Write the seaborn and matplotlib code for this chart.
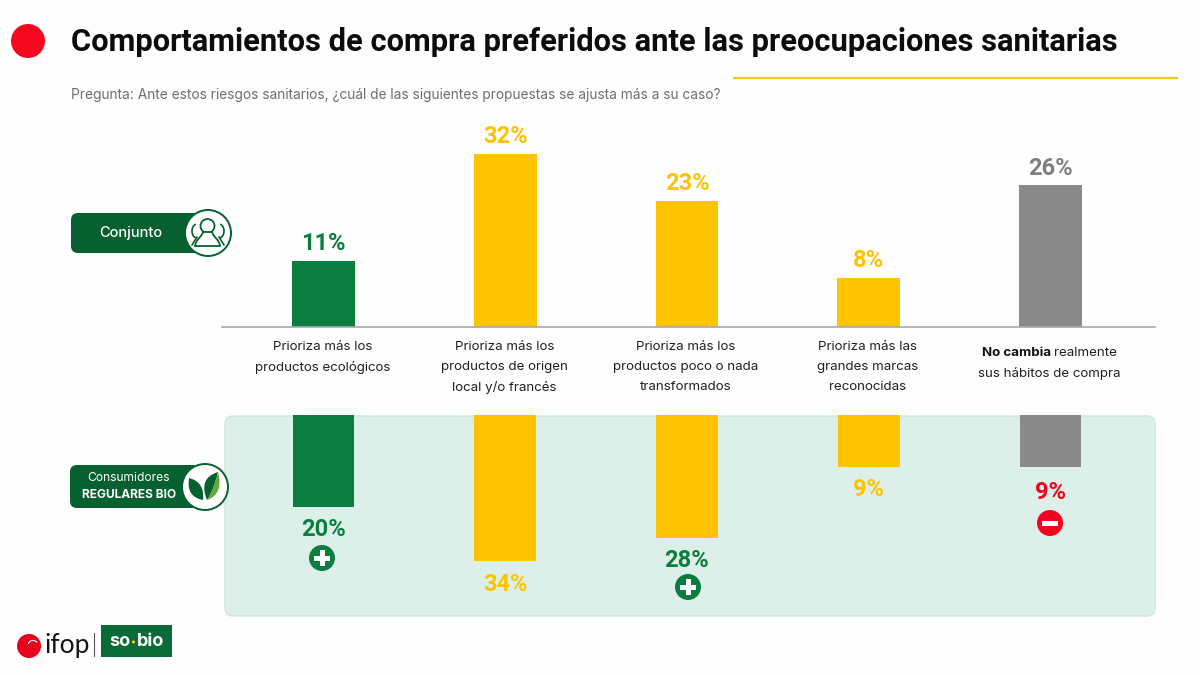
import numpy as np
import pandas as pd
import matplotlib
matplotlib.use('Agg')
import matplotlib.pyplot as plt
from matplotlib.patches import FancyBboxPatch, Circle, Rectangle, PathPatch, Arc
from matplotlib.path import Path
import seaborn as sns

# datos
categorias = ['ecologicos', 'local', 'transformados', 'marcas', 'no cambia']
etiquetas = ['Prioriza más los\nproductos ecológicos',
             'Prioriza más los\nproductos de origen\nlocal y/o francés',
             'Prioriza más los\nproductos poco o nada\ntransformados',
             'Prioriza más las\ngrandes marcas\nreconocidas',
             '\nsus hábitos de compra']
conjunto_txt = ['11%', '32%', '23%', '8%', '26%']
bio_txt = ['20%', '34%', '28%', '9%', '9%']
# altura dibujada de las barras (no es del todo proporcional en el original)
conjunto_alto = [12.2, 32, 23.3, 9.06, 26.2]
bio_alto = [21.4, 34, 28.6, 12.1, 12.1]

VERDE = '#0b7d3e'
OSCURO = '#07602f'
AMARILLO = '#ffc300'
GRIS = '#8a8a8a'
ROJO = '#f5001e'
colores = [VERDE, AMARILLO, AMARILLO, AMARILLO, GRIS]
colores_txt = [VERDE, AMARILLO, AMARILLO, AMARILLO, '#7f7f7f']
colores_bio = [VERDE, AMARILLO, VERDE, AMARILLO, ROJO]

sns.set_theme(style='white')
plt.rcParams['font.family'] = ['Inter', 'DejaVu Sans']

fig = plt.figure(figsize=(12, 6.75), dpi=100, facecolor='#fefefe')
W, H = 1200, 675


def ejes_px(x0, y0, x1, y1, **kw):
    return fig.add_axes([x0 / W, 1 - y1 / H, (x1 - x0) / W, (y1 - y0) / H], **kw)


# capa de fondo en pixeles
fondo = ejes_px(0, 0, W, H, zorder=0)
fondo.set_xlim(0, W)
fondo.set_ylim(H, 0)
fondo.axis('off')
fondo.add_patch(FancyBboxPatch((225, 416), 930, 200, boxstyle='round,pad=0,rounding_size=8',
                               fc='#dcefe8', ec='#cde5dc', lw=1))

df_top = pd.DataFrame({'cat': categorias, 'valor': conjunto_alto})
df_bio = pd.DataFrame({'cat': categorias, 'valor': bio_alto})

# barras de arriba
ax1 = ejes_px(222, 120, 1155, 327, zorder=1)
sns.barplot(data=df_top, x='cat', y='valor', hue='cat', palette=colores, legend=False,
            width=0.345, saturation=1, linewidth=0, ax=ax1)
ax1.set_xlim(-0.558, 4.575)
ax1.set_ylim(0, 207 / 5.41)
ax1.patch.set_alpha(0)
ax1.set(xlabel='', ylabel='', xticks=[], yticks=[])
sns.despine(ax=ax1, left=True, top=True, right=True)
ax1.spines['bottom'].set_color('#a8a8a8')
ax1.spines['bottom'].set_linewidth(1.2)
for i, t in enumerate(conjunto_txt):
    ax1.annotate(t, (i, conjunto_alto[i]), xytext=(0, 4), textcoords='offset points',
                 ha='center', va='bottom', fontsize=17, fontweight='bold', color=colores_txt[i],
                 family='Roboto')

# barras de abajo, invertidas
ax2 = ejes_px(222, 415, 1155, 616, zorder=1)
sns.barplot(data=df_bio, x='cat', y='valor', hue='cat', palette=colores, legend=False,
            width=0.34, saturation=1, linewidth=0, ax=ax2)
ax2.set_xlim(-0.558, 4.575)
ax2.set_ylim(201 / 4.295, 0)
ax2.patch.set_alpha(0)
ax2.set(xlabel='', ylabel='', xticks=[], yticks=[])
sns.despine(ax=ax2, left=True, top=True, right=True, bottom=True)
for i, t in enumerate(bio_txt):
    extra = -10 if i == 4 else -8.3
    ax2.annotate(t, (i, bio_alto[i]), xytext=(0, extra), textcoords='offset points',
                 ha='center', va='top', fontsize=17, fontweight='bold', color=colores_bio[i],
                 family='Roboto')

# capa de textos e iconos
capa = ejes_px(0, 0, W, H, zorder=2)
capa.set_xlim(0, W)
capa.set_ylim(H, 0)
capa.axis('off')
capa.patch.set_alpha(0)

capa.add_patch(Circle((28, 41), 17, fc='#f5071e', ec='none'))
capa.text(71, 42, 'Comportamientos de compra preferidos ante las preocupaciones sanitarias',
          fontsize=22.2, fontweight='bold', color='#0c0c0c', va='center', ha='left', family='Roboto')
capa.plot([733, 1178], [78, 78], color='#f5c518', lw=1.6, solid_capstyle='butt')
capa.text(71, 95.5, 'Pregunta: Ante estos riesgos sanitarios, ¿cuál de las siguientes propuestas se ajusta más a su caso?',
          fontsize=9.9, color='#6e6e6e', va='center', ha='left')

# cada linea por separado, con 20 px entre lineas
for i, lab in enumerate(etiquetas):
    y0 = 353 if i == 4 else 347
    for j, linea in enumerate(lab.split('\n')):
        if linea:
            capa.text(322.5 + 181.75 * i, y0 + 20 * j, linea, fontsize=9.6, color='#222222',
                      ha='center', va='center')
# la primera linea de la ultima etiqueta mezcla negrita y normal
capa.text(982, 353, 'No cambia', fontsize=9.6, fontweight='bold', color='#111111', ha='left', va='center')
capa.text(1054, 353, 'realmente', fontsize=9.6, color='#222222', ha='left', va='center')


def signo(x, y, color, mas):
    capa.add_patch(Circle((x, y), 13, fc=color, ec='none'))
    capa.add_patch(Rectangle((x - 8, y - 2.5), 16, 5, fc='white', ec='none'))
    if mas:
        capa.add_patch(Rectangle((x - 2.5, y - 8), 5, 16, fc='white', ec='none'))


signo(322, 558, VERDE, True)
signo(688, 587, VERDE, True)
signo(1050, 523, ROJO, False)

# etiqueta Conjunto
capa.add_patch(FancyBboxPatch((71, 213), 130, 40, boxstyle='round,pad=0,rounding_size=7', fc=OSCURO, ec='none'))
capa.text(131, 233, 'Conjunto', fontsize=10.5, fontweight='medium', color='white', ha='center', va='center')
capa.add_patch(Circle((208, 233), 23, fc='white', ec=OSCURO, lw=1.4))
capa.add_patch(Arc((197, 231), 10, 14, theta1=90, theta2=260, ec=OSCURO, lw=1.2, zorder=3))
capa.add_patch(Arc((219, 231), 10, 14, theta1=-80, theta2=90, ec=OSCURO, lw=1.2, zorder=3))
capa.plot([192, 197], [245, 237], color=OSCURO, lw=1.2, zorder=3)
capa.plot([224, 219], [245, 237], color=OSCURO, lw=1.2, zorder=3)
capa.add_patch(Circle((207.5, 226), 7, fc='white', ec=OSCURO, lw=1.3, zorder=4))
capa.add_patch(PathPatch(Path([(195, 246), (196, 239), (201, 238), (203, 232), (212, 232), (214, 238), (219, 239), (220, 246), (195, 246)],
                              [Path.MOVETO, Path.CURVE4, Path.CURVE4, Path.CURVE4, Path.LINETO, Path.CURVE4, Path.CURVE4, Path.CURVE4, Path.CLOSEPOLY]),
                         fc='white', ec=OSCURO, lw=1.3, zorder=4))

# etiqueta Consumidores
capa.add_patch(FancyBboxPatch((70, 465), 130, 43, boxstyle='round,pad=0,rounding_size=7', fc=OSCURO, ec='none'))
capa.text(129, 478, 'Consumidores', fontsize=8.7, color='white', ha='center', va='center')
capa.text(129, 495, 'REGULARES BIO', fontsize=8.6, fontweight='bold', color='white', ha='center', va='center')
capa.add_patch(Circle((205, 487), 23, fc='white', ec=OSCURO, lw=1.4))


def hoja(x0, y0, x1, y1, cx1, cy1, cx2, cy2, color):
    capa.add_patch(PathPatch(Path([(x0, y0), (cx1, cy1), (x1, y1), (cx2, cy2), (x0, y0)],
                                  [Path.MOVETO, Path.CURVE3, Path.CURVE3, Path.CURVE3, Path.CURVE3]),
                             fc=color, ec='none', zorder=4))


hoja(203, 500, 189, 478, 186, 497, 205, 482, OSCURO)
hoja(207, 500, 218, 472, 198, 478, 214, 490, OSCURO)
hoja(207, 500, 218, 472, 224, 494, 214, 490, '#62a83a')

# logos
capa.add_patch(Circle((29, 646), 12, fc='#e8001f', ec='none'))
capa.add_patch(Arc((33, 644), 9, 7, theta1=180, theta2=340, ec='white', lw=0.8))
capa.text(45, 646, 'ifop', fontsize=19, color='#151515', ha='left', va='center', family='Lato')
capa.plot([94, 94], [633, 656], color='#555555', lw=0.8)
capa.add_patch(Rectangle((101, 625), 71, 32, fc='#0a6b37', ec='none'))
capa.text(130, 641, 'so', fontsize=13, fontweight='bold', color='white', ha='right', va='center')
capa.add_patch(Circle((133.5, 642), 1.6, fc='#f5c518', ec='none'))
capa.text(137, 641, 'bio', fontsize=13, fontweight='bold', color='white', ha='left', va='center')

fig.savefig('out.png', dpi=100, facecolor=fig.get_facecolor())
